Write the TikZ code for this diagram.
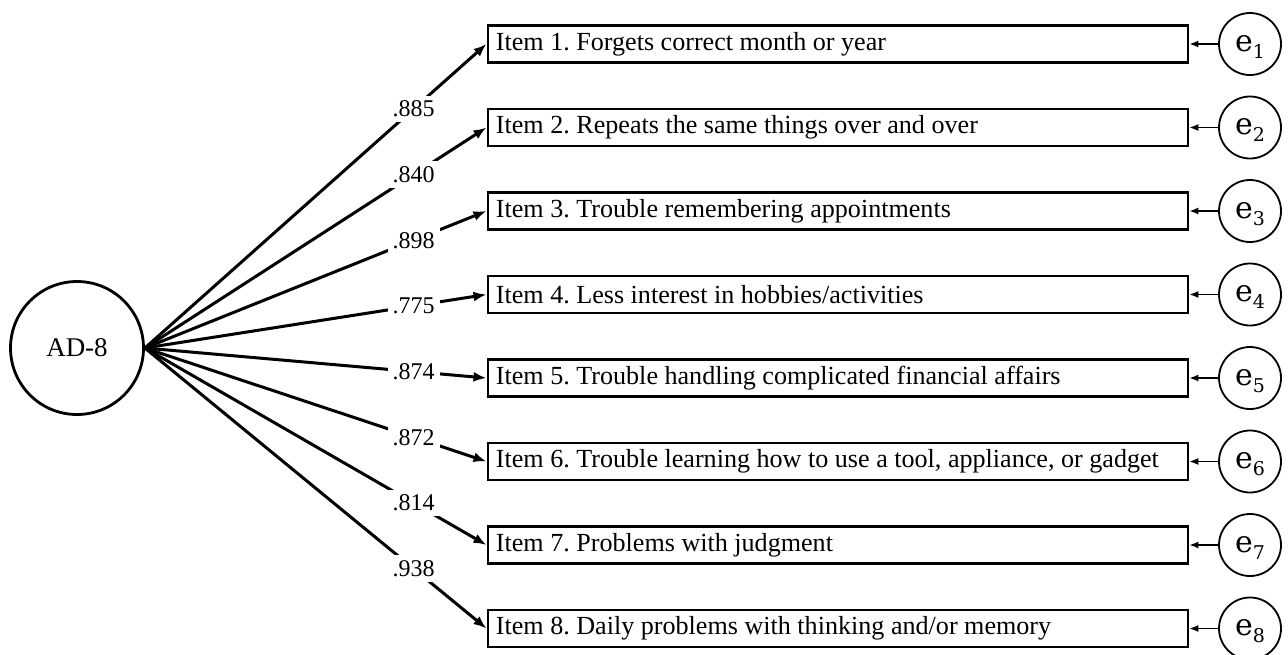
\documentclass[tikz,border=0pt]{standalone}
\usepackage{fontspec}
\setmainfont{Liberation Serif}
\newfontfamily\efont{DejaVu Serif}
\usetikzlibrary{arrows.meta}
\frenchspacing
\begin{document}
\begin{tikzpicture}[x=1pt,y=-1pt,
  latent/.style={draw, circle, line width=2.8pt, minimum size=133pt, inner sep=0pt, font=\fontsize{27}{30}\selectfont},
  itembox/.style={draw, line width=2.8pt, minimum height=37pt, inner xsep=8pt, inner ysep=0pt, anchor=west, font=\fontsize{26.1}{30}\selectfont},
  errc/.style={draw, circle, line width=1.8pt, minimum size=62pt, inner sep=0pt, font=\efont\fontsize{30}{30}\selectfont},
  load/.style={line width=3pt, -{Latex[length=13pt, width=10pt]}},
  errarrow/.style={line width=1.6pt, -{Latex[length=9pt, width=7pt]}},
  lab/.style={fill=white, inner sep=5pt, font=\fontsize{24}{26}\selectfont}]
\useasboundingbox (0,0) rectangle (1288,654);
\newcommand{\esub}[1]{\raisebox{-7pt}[0pt][0pt]{e\raisebox{-7pt}{\fontsize{19}{19}\selectfont #1}}}
\node[latent] (ad) at (77,348) {AD-8};
\foreach \i/\y/\t/\l in {
  1/44/{Item 1. Forgets correct month or year}/.885,
  2/127.5/{Item 2. Repeats the same things over and over}/.840,
  3/211/{Item 3. Trouble remembering appointments}/.898,
  4/294.5/{Item 4. Less interest in hobbies/activities}/.775,
  5/378/{Item 5. Trouble handling complicated financial affairs}/.874,
  6/461.5/{Item 6. Trouble learning how to use a tool, appliance, or gadget}/.872,
  7/545/{Item 7. Problems with judgment}/.814,
  8/628.5/{Item 8. Daily problems with thinking and/or memory}/.938}{
  \node[itembox] (b\i) at (486.5,\y) {\makebox[684pt][l]{\t}};
  \node[errc] (e\i) at (1250,\y) {\esub{\i}};
  \draw[errarrow] (e\i) -- (b\i.east);
  \draw[load] (ad.east) -- node[lab, pos=0.7865] {\l} (b\i.west);
}
\end{tikzpicture}
\end{document}
